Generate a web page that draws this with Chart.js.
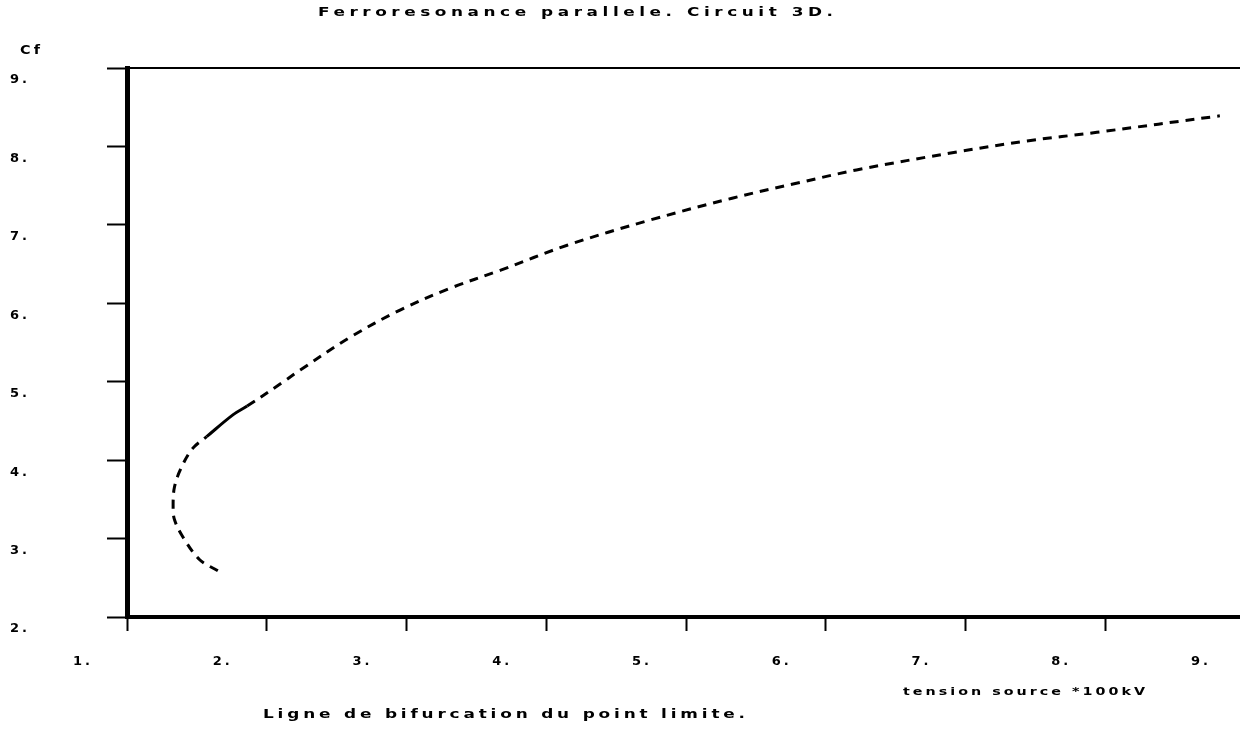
<!DOCTYPE html>
<html>
<head>
<meta charset="utf-8">
<script src="https://cdn.jsdelivr.net/npm/chart.js"></script>
<style>
  html, body { margin: 0; padding: 0; background: #fff; overflow: hidden; }
  #wrap { position: relative; width: 1250px; height: 733px; }
</style>
</head>
<body>
<div id="wrap"><canvas id="bifChart"></canvas></div>
<script>
// curve, from the lower end up to the right end
var tensionValues = [1.65, 1.52, 1.40, 1.34, 1.33, 1.34, 1.39, 1.47, 1.57, 1.76, 1.86, 2.12, 2.24, 2.60, 2.95, 3.31, 3.67, 4.15, 4.74, 5.33, 5.79, 6.22, 6.94, 7.44, 7.94, 8.82];
var cfValues      = [2.59, 2.73, 3.02, 3.24, 3.40, 3.66, 3.91, 4.15, 4.30, 4.58, 4.69, 5.00, 5.15, 5.57, 5.91, 6.19, 6.42, 6.74, 7.06, 7.34, 7.53, 7.70, 7.93, 8.07, 8.18, 8.39];
// short solid stretch of the curve (point indexes)
var solidFrom = 8, solidTo = 10;

var xTicks = [1, 2, 3, 4, 5, 6, 7, 8, 9];
var yTicks = [2, 3, 4, 5, 6, 7, 8, 9];

var chartTitle = "Ferroresonance parallele. Circuit 3D.";
var chartCaption = "Ligne de bifurcation du point limite.";
var xAxisTitle = "tension source *100kV";
var yAxisTitle = "Cf";

var plotFont = "DejaVu Sans";

// plotter lettering: wide glyphs spread over a given width
function spacedText(ctx, text, x, y, width, stretch) {
  ctx.save();
  ctx.translate(x, y);
  ctx.scale(stretch, 1);
  ctx.letterSpacing = "0px";
  var w = ctx.measureText(text).width;
  var sp = (width / stretch - w) / (text.length - 1);
  ctx.letterSpacing = sp + "px";
  ctx.fillText(text, 0, 0);
  ctx.restore();
}

var plotterText = {
  id: "plotterText",
  beforeDraw: function (chart) {
    chart.ctx.letterSpacing = "3px";
  },
  afterDraw: function (chart) {
    var ctx = chart.ctx;
    ctx.save();
    ctx.fillStyle = "#000";
    ctx.textAlign = "left";
    ctx.textBaseline = "middle";
    ctx.font = "bold 13px '" + plotFont + "'";
    spacedText(ctx, chartTitle, 318, 13, 515, 1.3);
    spacedText(ctx, chartCaption, 263, 715, 482, 1.3);
    ctx.font = "bold 12px '" + plotFont + "'";
    spacedText(ctx, yAxisTitle, 20, 51, 20, 1.2);
    ctx.font = "bold 11px '" + plotFont + "'";
    spacedText(ctx, xAxisTitle, 903, 692, 242, 1.3);
    ctx.restore();
  }
};

new Chart("bifChart", {
  type: "line",
  data: {
    datasets: [
      {
        data: tensionValues.map(function (v, i) { return { x: v, y: cfValues[i] }; }),
        borderColor: "#000",
        borderWidth: 3,
        pointRadius: 0,
        fill: false,
        tension: 0.35,
        borderDash: [9, 7],
        segment: {
          borderDash: function (c) {
            return (c.p0DataIndex >= solidFrom && c.p0DataIndex < solidTo) ? [] : [9, 7];
          }
        }
      }
    ]
  },
  plugins: [plotterText],
  options: {
    responsive: true,
    maintainAspectRatio: false,
    animation: false,
    layout: { padding: { left: 10, top: 68, right: 5, bottom: 0 } },
    plugins: {
      legend: { display: false },
      tooltip: { enabled: false }
    },
    scales: {
      x: {
        type: "linear",
        position: "bottom",
        min: 1,
        max: 9,
        afterBuildTicks: function (s) { s.ticks = xTicks.map(function (v) { return { value: v }; }); },
        afterFit: function (s) { s.height = 116; s.paddingLeft = 0; s.paddingRight = 0; },
        border: { display: true, color: "#000", width: 4 },
        grid: { drawOnChartArea: false, drawTicks: true, tickLength: 14, tickWidth: 2, tickColor: "#000", color: "#000" },
        ticks: {
          color: "#000",
          font: { family: plotFont, weight: "bold", size: 13 },
          padding: 23,
          labelOffset: -44,
          maxRotation: 0,
          autoSkip: false,
          callback: function (v) { return v + "."; }
        }
      },
      xTop: {
        type: "linear",
        position: "top",
        min: 1,
        max: 9,
        afterFit: function (s) { s.height = 0; s.paddingLeft = 0; s.paddingRight = 0; },
        border: { display: true, color: "#000", width: 2 },
        grid: { display: false },
        ticks: { display: false }
      },
      y: {
        type: "linear",
        min: 2,
        max: 9,
        afterBuildTicks: function (s) { s.ticks = yTicks.map(function (v) { return { value: v }; }); },
        afterFit: function (s) { s.width = 117; s.paddingTop = 0; s.paddingBottom = 0; },
        border: { display: true, color: "#000", width: 5 },
        grid: { drawOnChartArea: false, drawTicks: true, tickLength: 20, tickWidth: 2, tickColor: "#000", color: "#000" },
        ticks: {
          color: "#000",
          font: { family: plotFont, weight: "bold", size: 13 },
          crossAlign: "far",
          labelOffset: 12,
          autoSkip: false,
          callback: function (v) { return v + "."; }
        }
      }
    }
  }
});
</script>
</body>
</html>
